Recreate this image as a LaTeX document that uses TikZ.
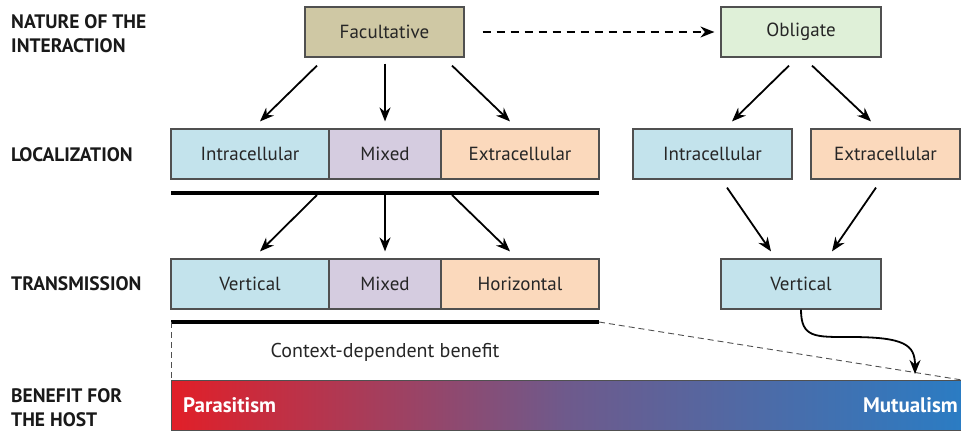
\documentclass[tikz,border=0pt]{standalone}
\usepackage{fontspec}
\setmainfont{PT Sans}
\usetikzlibrary{arrows.meta,calc}
\definecolor{facC}{HTML}{CFC8A4}
\definecolor{oblC}{HTML}{DFF0D8}
\definecolor{blueC}{HTML}{C3E3EC}
\definecolor{lavC}{HTML}{D5CCE0}
\definecolor{peachC}{HTML}{FBD9BC}
\definecolor{edgeC}{HTML}{505050}
\definecolor{parC}{HTML}{E11F28}
\definecolor{midC}{HTML}{6E5A8C}
\definecolor{mutC}{HTML}{2B7CC3}
\tikzset{
  box/.style={draw=edgeC, line width=1.2pt, minimum height=50pt, inner sep=0pt,
    font=\fontsize{19}{22}\selectfont, text=black!85},
  lbl/.style={font=\fontsize{19.5}{24}\selectfont\bfseries, anchor=west, align=left, inner sep=0pt, text=black!90},
  arr/.style={line width=1.8pt, -{Stealth[length=14pt,width=11pt]}},
  bar/.style={line width=4.5pt},
}
\begin{document}
\begin{tikzpicture}[x=1pt,y=-1pt]
\useasboundingbox (0,0) rectangle (961,431);
% left labels
\node[lbl] (l1) at (11,34) {NATURE OF THE\\INTERACTION};
\node[lbl] (l2) at (11,155) {LOCALIZATION};
\node[lbl] (l3) at (11,284) {TRANSMISSION};
\node[lbl] (l4) at (11,408) {BENEFIT FOR\\THE HOST};
% top
\node[box, fill=facC, minimum width=159pt] (fac) at (384.5,32) {Facultative};
\node[box, fill=oblC, minimum width=160pt] (obl) at (801,32) {Obligate};
% localization
\node[box, fill=blueC, minimum width=158pt] (li) at (250,154) {Intracellular};
\node[box, fill=lavC, minimum width=112pt] (lm) at (385,154) {Mixed};
\node[box, fill=peachC, minimum width=158pt] (le) at (520,154) {Extracellular};
\node[box, fill=blueC, minimum width=159pt] (oi) at (712.5,154) {Intracellular};
\node[box, fill=peachC, minimum width=149pt] (oe) at (885.5,154) {Extracellular};
% transmission
\node[box, fill=blueC, minimum width=158pt] (tv) at (250,284) {Vertical};
\node[box, fill=lavC, minimum width=112pt] (tm) at (385,284) {Mixed};
\node[box, fill=peachC, minimum width=158pt] (th) at (520,284) {Horizontal};
\node[box, fill=blueC, minimum width=160pt] (ov) at (801,284) {Vertical};
% bars
\coordinate (b1l) at (171,193); \coordinate (b1r) at (599,193);
\coordinate (b2l) at (171,322); \coordinate (b2r) at (599,322);
\draw[bar] (b1l) -- (b1r);
\draw[bar] (b2l) -- (b2r);
% gradient bar
\node[draw=edgeC, line width=1pt, minimum width=790pt, minimum height=50pt, inner sep=0pt,
  left color=parC, right color=mutC, middle color=midC, anchor=north west] (grad) at (171,380) {};
\node[font=\fontsize{21}{24}\selectfont\bfseries, text=white, anchor=west, inner sep=0pt] (par) at (183,405) {Parasitism};
\node[font=\fontsize{21}{24}\selectfont\bfseries, text=white, anchor=east, inner sep=0pt] (mut) at (958,405) {Mutualism};
% context text
\node[font=\fontsize{20}{24}\selectfont, text=black!85] (ctx) at (385,352) {Context-dependent benefit};
% dashed lines
\draw[line width=0.9pt, dash pattern=on 6pt off 4pt, edgeC] (b2l) -- (grad.north west);
\draw[line width=0.9pt, dash pattern=on 6pt off 4pt, edgeC] (b2r) -- (grad.north east);
\draw[line width=1.6pt, dash pattern=on 8pt off 6pt, -{Stealth[length=14pt,width=11pt]}]
  ($(fac.east)+(18,0)$) -- ($(obl.west)+(-6,0)$);
% arrows top to localization
\draw[arr] ($(fac.south)+(-67.5,8)$) -- ($(li.north)+(10,-7)$);
\draw[arr] ($(fac.south)+(0.5,6)$) -- ($(lm.north)+(0,-7)$);
\draw[arr] ($(fac.south)+(67.5,8)$) -- ($(le.north)+(-10,-7)$);
\draw[arr] ($(obl.south)+(-12,8)$) -- ($(oi.north)+(19.5,-7)$);
\draw[arr] ($(obl.south)+(11,8)$) -- ($(oe.north)+(-14.5,-7)$);
% localization to transmission
\draw[arr] ($(b1l)+(146,2)$) -- ($(tv.north)+(10,-7)$);
\draw[arr] ($(b1l)+(214,2)$) -- ($(tm.north)+(0,-7)$);
\draw[arr] ($(b1l)+(281,2)$) -- ($(th.north)+(-10,-7)$);
\draw[arr] ($(oi.south)+(14.5,8)$) -- ($(ov.north)+(-30,-7)$);
\draw[arr] ($(oe.south)+(-9.5,8)$) -- ($(ov.north)+(31,-7)$);
% curved arrow
\coordinate (cend) at (915,374);
\draw[arr] (ov.south) .. controls (801,338) and (815,337) .. (850,337)
  .. controls (905,337) and (915,345) .. (cend);
\end{tikzpicture}
\end{document}
